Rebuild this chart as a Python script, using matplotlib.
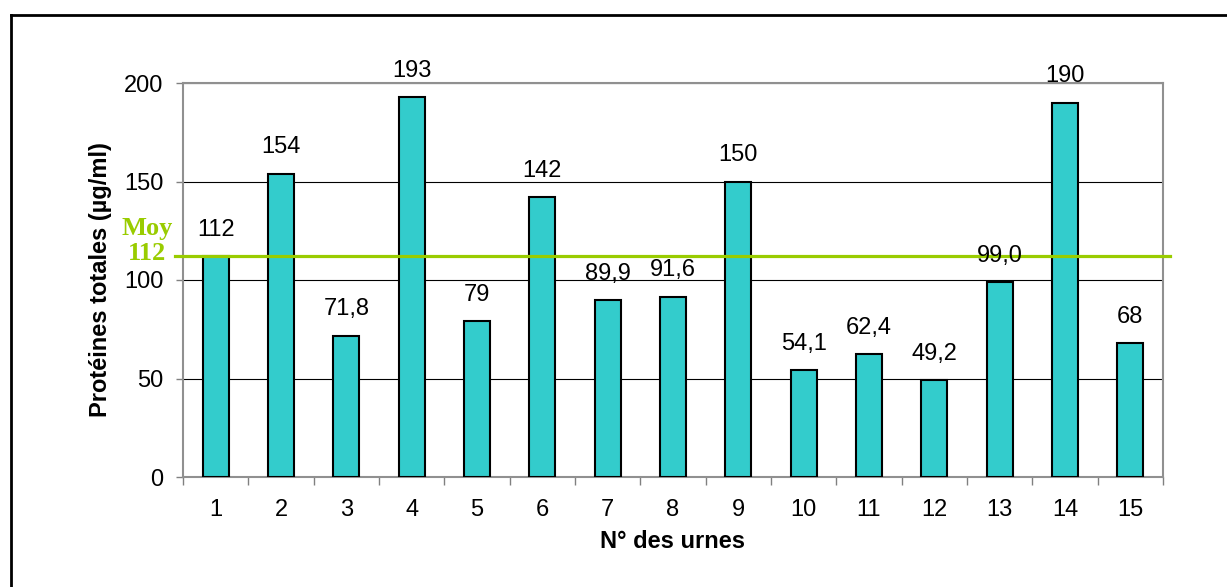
import matplotlib
matplotlib.use("Agg")
import matplotlib.pyplot as plt
from matplotlib.lines import Line2D

# Data
urnes = list(range(1, 16))
proteines = [112, 154, 71.8, 193, 79, 142, 89.9, 91.6, 150, 54.1, 62.4, 49.2, 99.0, 190, 68]
labels = ["112", "154", "71,8", "193", "79", "142", "89,9", "91,6", "150",
          "54,1", "62,4", "49,2", "99,0", "190", "68"]
moyenne = 112
yticks = [0, 50, 100, 150, 200]

W, H = 1227, 587
FS = 17
plt.rcParams['font.family'] = ['Liberation Sans', 'DejaVu Sans']
fig = plt.figure(figsize=(W / 100, H / 100), dpi=100)
ax = fig.add_axes([183 / W, 1 - 477 / H, 980 / W, 394 / H])

ax.bar(urnes, proteines, width=0.4, color='#33CCCC', edgecolor='black',
       linewidth=1.5, zorder=3)
for x, v, lab in zip(urnes, proteines, labels):
    ax.annotate(lab, (x, v), xytext=(0, 11), textcoords='offset points',
                ha='center', va='bottom', fontsize=FS, annotation_clip=False,
                zorder=5)

ax.set_xlim(0.5, 15.5)
ax.set_ylim(0, 200)
ax.set_yticks(yticks)
ax.yaxis.grid(True, color='black', linewidth=0.8, zorder=0)
ax.set_axisbelow(True)

ax.set_xticks([i + 0.5 for i in range(0, 16)])
ax.set_xticklabels([])
ax.set_xticks(urnes, minor=True)
ax.set_xticklabels([str(u) for u in urnes], minor=True, fontsize=FS)
ax.tick_params(axis='x', which='major', direction='out', length=6, width=1, color='#808080')
ax.tick_params(axis='x', which='minor', length=0, pad=16)
ax.tick_params(axis='y', direction='out', length=5, width=1, color='#808080',
               labelsize=FS, pad=9)

for s in ax.spines.values():
    s.set_color('#909090')
    s.set_linewidth(1.5)

ax.set_xlabel("N° des urnes", fontsize=FS, fontweight='bold', labelpad=6)
ax.set_ylabel("Protéines totales (µg/ml)", fontsize=FS, fontweight='bold', labelpad=9)

# Mean line extending slightly beyond the axes
ax.plot([0.38, 15.61], [moyenne, moyenne], color='#99CC00', linewidth=2.3,
        clip_on=False, zorder=4)
ax.annotate(f"Moy\n{moyenne}", (0.5, moyenne), xytext=(-26, 11), textcoords='offset points',
            ha='center', va='center',
            fontsize=19, fontweight='bold', color='#99CC00',
            family='Liberation Serif', linespacing=1.15, annotation_clip=False)

# Frame lines (top and left)
fig.add_artist(Line2D([11 / W, 1.0], [1 - 15 / H, 1 - 15 / H], color='black',
                      linewidth=2, transform=fig.transFigure))
fig.add_artist(Line2D([11 / W, 11 / W], [0.0, 1 - 15 / H], color='black',
                      linewidth=2, transform=fig.transFigure))

fig.savefig("out.png", dpi=100)
